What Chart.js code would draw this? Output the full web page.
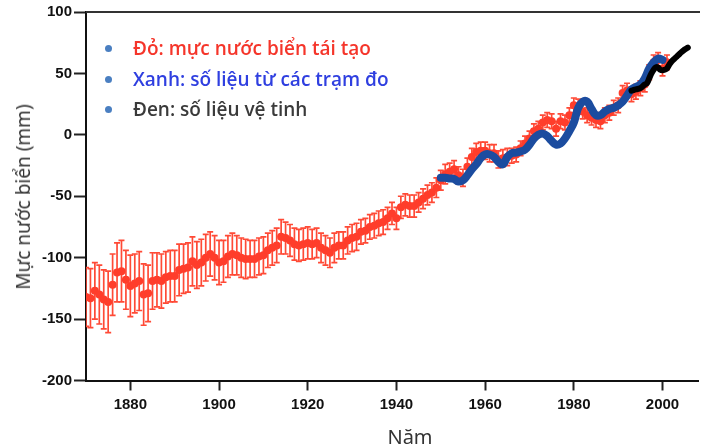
<!DOCTYPE html>
<html>
<head>
<meta charset="utf-8">
<script src="https://cdn.jsdelivr.net/npm/chart.js@4.4.1/dist/chart.umd.min.js"></script>
<style>
  html, body { margin: 0; padding: 0; background: #fff; }
  #wrap { position: relative; width: 702px; height: 448px; overflow: hidden; }
  #c { position: absolute; left: 0; top: 0; }
  .legend { position: absolute; left: 100px; top: 34px; font-family: "Open Sans", "Noto Sans", sans-serif; font-weight: 600; font-size: 19px; }
  .legend .row { position: absolute; left: 0; white-space: nowrap; height: 28px; line-height: 28px; }
  .legend .dot { position: absolute; left: 5px; top: 11px; width: 7px; height: 7px; border-radius: 50%; background: #4a7fc1; }
  .legend .txt { position: absolute; left: 33px; top: 0; }
  .ytitle { position: absolute; left: 23px; top: 197px; transform: translate(-50%, -50%) rotate(-90deg); font-family: "Noto Sans", sans-serif; font-size: 19px; color: #333; white-space: nowrap; }
  .xtitle { position: absolute; left: 410px; top: 436px; transform: translate(-50%, -50%); font-family: "Noto Sans", sans-serif; font-size: 20px; color: #333; white-space: nowrap; }
</style>
</head>
<body>
<div id="wrap">
  <canvas id="c" width="702" height="448"></canvas>
  <div class="legend" id="legend"></div>
  <div class="ytitle" id="ytitle"></div>
  <div class="xtitle" id="xtitle"></div>
</div>
<script>
// ---------- DATA ----------
const xTitle = "Năm";
const yTitle = "Mực nước biển (mm)";
const legendLabels = ["Đỏ: mực nước biển tái tạo", "Xanh: số liệu từ các trạm đo", "Đen: số liệu vệ tinh"];
const legendColors = ["#f5352a", "#2f3fe0", "#3a3a3a"];

const xTicks = [1880, 1900, 1920, 1940, 1960, 1980, 2000];
const yTicks = [-200, -150, -100, -50, 0, 50, 100];

const redYears = [
  1870,1871,1872,1873,1874,1875,1876,1877,1878,1879,
  1880,1881,1882,1883,1884,1885,1886,1887,1888,1889,
  1890,1891,1892,1893,1894,1895,1896,1897,1898,1899,
  1900,1901,1902,1903,1904,1905,1906,1907,1908,1909,
  1910,1911,1912,1913,1914,1915,1916,1917,1918,1919,
  1920,1921,1922,1923,1924,1925,1926,1927,1928,1929,
  1930,1931,1932,1933,1934,1935,1936,1937,1938,1939,
  1940,1941,1942,1943,1944,1945,1946,1947,1948,1949,
  1950,1951,1952,1953,1954,1955,1956,1957,1958,1959,
  1960,1961,1962,1963,1964,1965,1966,1967,1968,1969,
  1970,1971,1972,1973,1974,1975,1976,1977,1978,1979,
  1980,1981,1982,1983,1984,1985,1986,1987,1988,1989,
  1990,1991,1992,1993,1994,1995,1996,1997,1998,1999,
  2000,2001
];
const redValues = [
  -132,-133,-127,-130,-134,-136,-122,-112,-111,-118,
  -123,-121,-119,-130,-129,-119,-118,-119,-116,-115,
  -115,-110,-109,-108,-103,-106,-104,-100,-97,-100,
  -104,-103,-99,-97,-98,-100,-101,-101,-101,-99,
  -98,-94,-92,-90,-83,-84,-86,-89,-90,-89,
  -88,-89,-88,-92,-94,-96,-92,-90,-90,-86,
  -84,-83,-79,-78,-75,-74,-72,-71,-68,-64,
  -68,-59,-57,-58,-58,-55,-52,-49,-47,-43,
  -37,-32,-30,-28,-33,-35,-26,-18,-14,-13,
  -13,-15,-15,-20,-19,-18,-17,-16,-11,-7,
  -3,3,5,10,12,11,5,11,10,16,
  24,23,19,16,14,12,11,16,18,22,
  24,34,36,33,35,38,41,51,59,61,
  54,59
];
const redErrors = [
  24,24,23,24,24,25,25,24,25,24,
  25,24,24,25,23,23,22,22,21,21,
  21,21,20,20,20,19,19,19,18,18,
  18,17,17,17,16,16,16,15,15,15,
  15,14,14,14,14,13,13,13,13,13,
  13,12,12,12,12,12,12,11,11,11,
  11,11,10,10,10,10,10,10,9,9,
  9,9,9,9,9,8,8,8,8,8,
  8,8,7,7,7,7,7,7,7,7,
  7,7,7,7,7,7,6,6,6,6,
  6,6,6,6,6,6,6,6,6,6,
  6,6,6,6,6,6,6,6,6,6,
  6,6,6,6,6,6,6,6,6,6,
  6,6
];

const blueYears = [
  1950,1951,1952,1953,1954,1955,1956,1957,1958,1959,
  1960,1961,1962,1963,1964,1965,1966,1967,1968,1969,
  1970,1971,1972,1973,1974,1975,1976,1977,1978,1979,
  1980,1981,1982,1983,1984,1985,1986,1987,1988,1989,
  1990,1991,1992,1993,1994,1995,1996,1997,1998,1999,
  2000
];
const blueValues = [
  -35,-35,-35.5,-36,-38,-37,-33,-28,-24,-19,
  -16,-16,-18,-22,-24,-18,-15,-14.5,-13.5,-12,
  -8,-3,0,1,-1,-5,-8,-7,-3,3,
  10,22,27,27,21,16,16,19,21,22,
  24,27,32,37,39,41,46,54,59,62,
  61
];

const satYears = [1993.0,1993.5,1994,1995,1996,1996.5,1997,1997.5,1998,1998.5,1999,1999.5,2000,2000.5,2001,2001.5,2002,2003,2004,2005,2005.7];
const satValues = [36,36.5,37,38,41,42,46,50,53,55,55,53,52.5,53,54,57,59.5,63,66.5,69.5,71];

// ---------- BUILD ----------
const redData = redYears.map((y, i) => ({ x: y, y: redValues[i] }));
const blueData = blueYears.map((y, i) => ({ x: y, y: blueValues[i] }));
const satData = satYears.map((y, i) => ({ x: y, y: satValues[i] }));

const leg = document.getElementById('legend');
legendLabels.forEach((t, i) => {
  const r = document.createElement('div');
  r.className = 'row';
  r.style.top = (i * 30.5) + 'px';
  r.innerHTML = '<span class="dot"></span><span class="txt" style="color:' + legendColors[i] + '"></span>';
  r.querySelector('.txt').textContent = t;
  leg.appendChild(r);
});
document.getElementById('ytitle').textContent = yTitle;
document.getElementById('xtitle').textContent = xTitle;

const errorBarPlugin = {
  id: 'errorBars',
  beforeDatasetDraw(chart, args) {
    const ds = chart.data.datasets[args.index];
    if (!ds.errors) return;
    const xs = chart.scales.x, ys = chart.scales.y;
    const ctx = chart.ctx;
    ctx.save();
    ctx.beginPath();
    ctx.rect(chart.chartArea.left, chart.chartArea.top, chart.chartArea.right - chart.chartArea.left, chart.chartArea.bottom - chart.chartArea.top);
    ctx.clip();
    ctx.strokeStyle = '#ff4a36';
    ctx.lineWidth = 1.7;
    ds.data.forEach((p, i) => {
      const e = ds.errors[i];
      const px = xs.getPixelForValue(p.x);
      const top = ys.getPixelForValue(p.y + e);
      const bot = ys.getPixelForValue(p.y - e);
      ctx.beginPath();
      ctx.moveTo(px, top); ctx.lineTo(px, bot);
      ctx.moveTo(px - 3, top); ctx.lineTo(px + 3, top);
      ctx.moveTo(px - 3, bot); ctx.lineTo(px + 3, bot);
      ctx.stroke();
    });
    ctx.restore();
  }
};

const topBorderPlugin = {
  id: 'topBorder',
  afterDraw(chart) {
    const ctx = chart.ctx, a = chart.chartArea;
    ctx.save();
    ctx.strokeStyle = '#333';
    ctx.lineWidth = 2;
    ctx.beginPath();
    ctx.moveTo(a.left, a.top); ctx.lineTo(a.right + 2, a.top);
    ctx.stroke();
    ctx.restore();
  }
};

const tickFont = { family: '"Liberation Sans", Arial, sans-serif', weight: 'bold', size: 15 };

new Chart(document.getElementById('c'), {
  type: 'line',
  data: {
    datasets: [
      { label: 'sat', data: satData, order: 0, borderColor: '#000', borderWidth: 6, pointRadius: 0, tension: 0.4, borderCapStyle: 'round', borderJoinStyle: 'round', fill: false },
      { label: 'tide', data: blueData, order: 1, borderColor: '#1b4c9f', borderWidth: 8, pointRadius: 0, tension: 0.4, borderCapStyle: 'round', borderJoinStyle: 'round', fill: false },
      { label: 'recon', data: redData, errors: redErrors, order: 2, showLine: false, pointRadius: 4, pointBackgroundColor: '#ff3d2b', pointBorderWidth: 0, borderColor: '#ff3d2b' }
    ]
  },
  options: {
    responsive: false,
    animation: false,
    devicePixelRatio: 1,
    events: [],
    layout: { padding: { top: 12, right: 0, left: 0, bottom: 0 } },
    plugins: { legend: { display: false }, tooltip: { enabled: false } },
    scales: {
      x: {
        type: 'linear', min: 1870, max: 2008,
        afterBuildTicks: s => { s.ticks = xTicks.map(v => ({ value: v })); },
        afterFit: s => { s.height = 67.5; },
        grid: { drawOnChartArea: false, drawTicks: true, tickLength: 10, tickWidth: 2, tickColor: '#222' },
        border: { display: true, color: '#111', width: 2 },
        ticks: { color: '#111', padding: 5, font: tickFont, maxRotation: 0, autoSkip: false, callback: v => String(v) }
      },
      y: {
        type: 'linear', min: -200, max: 100,
        afterBuildTicks: s => { s.ticks = yTicks.map(v => ({ value: v })); },
        afterFit: s => { s.width = 86; },
        grid: { drawOnChartArea: false, drawTicks: true, tickLength: 12, tickWidth: 2, tickColor: '#222' },
        border: { display: true, color: '#111', width: 2 },
        ticks: { color: '#111', padding: 2, font: tickFont, autoSkip: false, callback: v => String(v) }
      }
    }
  },
  plugins: [errorBarPlugin, topBorderPlugin]
});
</script>
</body>
</html>
